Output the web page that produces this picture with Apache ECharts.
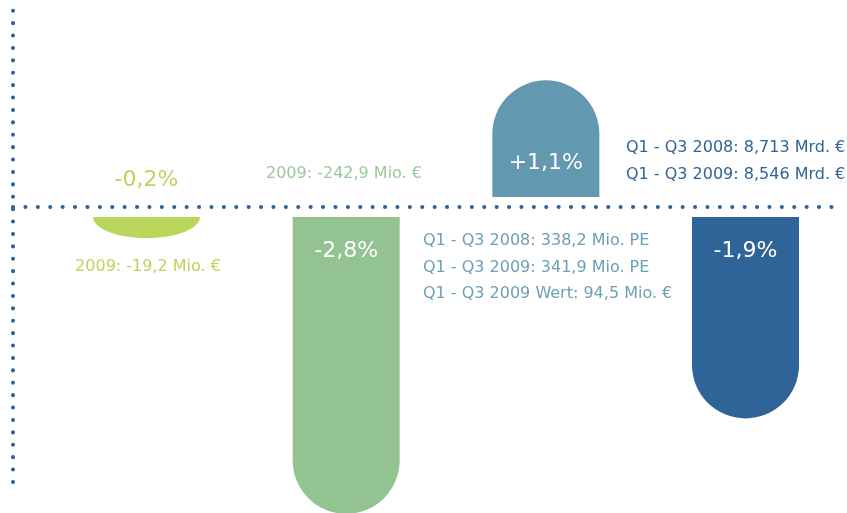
<!DOCTYPE html>
<html>
<head>
<meta charset="utf-8">
<script src="https://cdn.jsdelivr.net/npm/echarts@6/dist/echarts.min.js"></script>
<style>
  html, body { margin: 0; padding: 0; background: #fff; }
  #main { width: 847px; height: 513px; }
</style>
</head>
<body>
<div id="main"></div>
<script>
var myChart = echarts.init(document.getElementById('main'));

// Daten
var categories = ['A', 'B', 'C', 'D'];
var values = [-0.2, -2.8, 1.1, -1.9];
var pctLabels = ['-0,2%', '-2,8%', '+1,1%', '-1,9%'];
var colors = ['#b9d65a', '#93c391', '#6299b0', '#2f6499'];
var notesA = ['2009: -19,2 Mio. €'];
var notesB = ['2009: -242,9 Mio. €'];
var notesC = ['Q1 - Q3 2008: 338,2 Mio. PE', 'Q1 - Q3 2009: 341,9 Mio. PE', 'Q1 - Q3 2009 Wert: 94,5 Mio. €'];
var notesD = ['Q1 - Q3 2008: 8,713 Mrd. €', 'Q1 - Q3 2009: 8,546 Mrd. €'];

var FONT = '"DejaVu Sans", sans-serif';
var GAP = 10;
var dotStyle = { color: '#2f5f9a', width: 4, type: [0.1, 12.3], cap: 'round' };

function renderItem(params, api) {
    var i = api.value(0), v = api.value(1);
    var base = api.coord([i, 0]);
    var end = api.coord([i, v]);
    var r = api.size([0.536, 0])[0] / 2;
    var dir = v < 0 ? 1 : -1;
    var x0 = base[0] - r, x1 = base[0] + r;
    var y0 = base[1] + dir * GAP;
    var y1 = end[1] + dir * GAP;
    var len = Math.abs(y1 - y0);
    var ry = Math.min(r, len);
    var yc = y1 - dir * ry;
    var sweep = dir > 0 ? 1 : 0;
    var d = 'M' + x0 + ' ' + y0 + 'L' + x1 + ' ' + y0 + 'L' + x1 + ' ' + yc +
        'A' + r + ' ' + ry + ' 0 0 ' + sweep + ' ' + x0 + ' ' + yc + 'Z';
    var inside = len > 60;
    var ly = inside ? y0 + dir * 34 : base[1] - dir * 27;
    return {
        type: 'group',
        children: [{
            type: 'path',
            shape: { pathData: d },
            style: { fill: colors[params.dataIndex] }
        }, {
            type: 'text',
            style: {
                text: pctLabels[params.dataIndex],
                x: base[0], y: ly,
                align: 'center', verticalAlign: 'middle',
                fill: inside ? '#fff' : colors[params.dataIndex],
                font: '22px ' + FONT
            }
        }]
    };
}

function noteLines(lines, x, y, color, align, step) {
    return lines.map(function (t, k) {
        return {
            type: 'text', x: x, y: y + k * step,
            style: { text: t, fill: color, font: '16px ' + FONT, align: align, verticalAlign: 'middle' }
        };
    });
}

var option = {
    animation: false,
    grid: { left: 13, right: 12, top: 10, bottom: 31 },
    xAxis: {
        type: 'value', min: -0.6686, max: 3.4482,
        axisLine: { show: true, onZero: true, lineStyle: dotStyle },
        axisTick: { show: false }, axisLabel: { show: false }, splitLine: { show: false }
    },
    yAxis: {
        type: 'value', min: -2.594, max: 1.858,
        axisLine: { show: true, onZero: false, lineStyle: dotStyle },
        axisTick: { show: false }, axisLabel: { show: false }, splitLine: { show: false }
    },
    graphic: [].concat(
        noteLines(notesA, 148, 267, '#b9d65a', 'center', 27),
        noteLines(notesB, 266, 174, '#9ac898', 'left', 27),
        noteLines(notesC, 423, 241, '#6c9fb5', 'left', 26.5),
        noteLines(notesD, 626, 148, '#2f6499', 'left', 27)
    ),
    series: [{
        type: 'custom',
        renderItem: renderItem,
        clip: false,
        data: values.map(function (v, i) { return [i, v, categories[i]]; })
    }]
};
myChart.setOption(option);
</script>
</body>
</html>
